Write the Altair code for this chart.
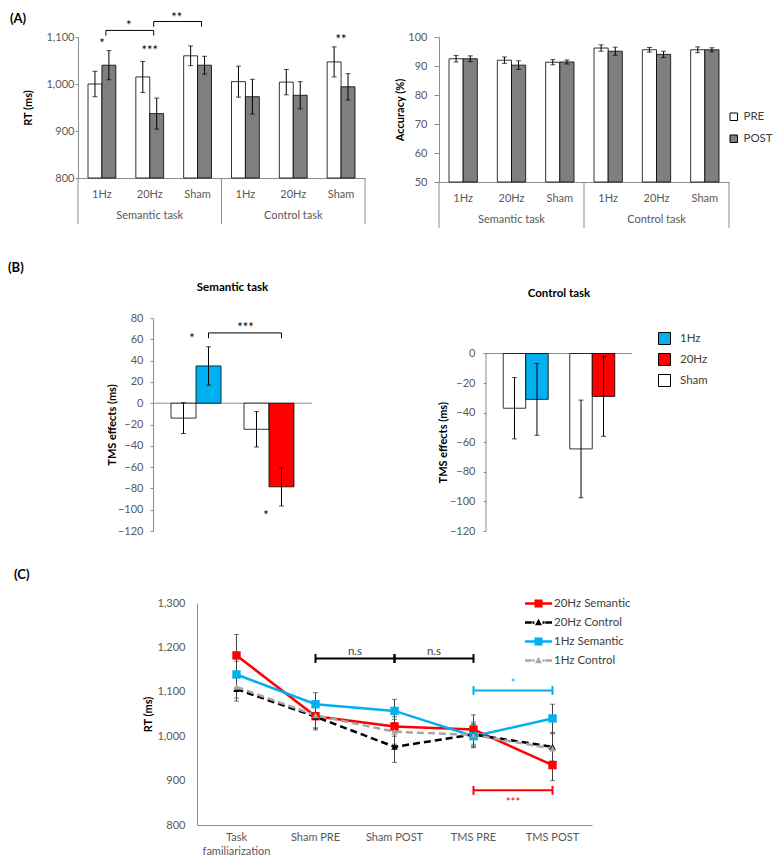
import altair as alt
import pandas as pd

FONT = "Lato"
AXIS_C = "#8c8c8c"
LABEL_C = "#595959"
TEXT_C = "#404040"

# ---------------- Panel A data ----------------
a_cats = ["S|1Hz", "S|20Hz", "S|Sham", "C|1Hz", "C|20Hz", "C|Sham"]
phases = ["PRE", "POST"]
tasks = ["Semantic task", "Control task"]
task_mid_cats = ["S|20Hz", "C|20Hz"]

rt_pre = [1000, 1015, 1060, 1005, 1004, 1047]
rt_pre_err = [27, 33, 21, 33, 27, 32]
rt_post = [1040, 937, 1040, 973, 976, 994]
rt_post_err = [31, 33, 19, 37, 29, 28]

acc_pre = [92.5, 92.0, 91.3, 96.2, 95.6, 95.6]
acc_pre_err = [1.1, 1.1, 0.9, 1.1, 0.8, 1.0]
acc_post = [92.5, 90.3, 91.4, 95.1, 94.0, 95.6]
acc_post_err = [1.0, 1.5, 0.7, 1.4, 1.1, 0.7]

a_star_cats = ["S|1Hz", "S|20Hz", "C|Sham"]
a_star_y = [1085, 1070, 1093]
a_star_txt = ["*", "***", "**"]
a_br_from = ["S|1Hz", "S|20Hz"]
a_br_to = ["S|20Hz", "S|Sham"]
a_br_top = [1114, 1133]
a_br_drop = [11, 11]
a_br_txt = ["*", "**"]
a_br_txt_y = [1124, 1141]

# ---------------- Panel B data ----------------
b_groups = ["G1", "G2"]
b_slots = ["sham", "tms"]
b_conds = ["1Hz", "20Hz", "Sham"]
b_colors = ["#00B0F0", "#FF0000", "#FFFFFF"]
b_bar_group = ["G1", "G1", "G2", "G2"]
b_bar_slot = ["sham", "tms", "sham", "tms"]
b_bar_cond = ["Sham", "1Hz", "Sham", "20Hz"]
b_sem_vals = [-14, 35, -24.5, -78.5]
b_sem_err = [14.5, 18, 16.6, 18]
b_ctl_vals = [-37, -31, -64.5, -29]
b_ctl_err = [20.7, 24.3, 33, 27]

# ---------------- Panel C data ----------------
c_cats = ["Task familiarization", "Sham PRE", "Sham POST", "TMS PRE", "TMS POST"]
c_series = ["20Hz Semantic", "20Hz Control", "1Hz Semantic", "1Hz Control"]
c_colors = ["#FF0000", "#000000", "#00B0F0", "#A6A6A6"]
c_20_sem = [1182, 1045, 1022, 1015, 935]
c_20_ctl = [1106, 1044, 976, 1004, 976]
c_1_sem = [1139, 1072, 1057, 1000, 1040]
c_1_ctl = [1111, 1047, 1010, 1003, 972]
c_20_sem_err = [47, 28, 22, 33, 35]
c_20_ctl_err = [27, 30, 35, 28, 32]
c_1_sem_err = [30, 26, 26, 26, 32]
c_1_ctl_err = [25, 28, 28, 25, 33]

c_br_from = ["Sham PRE", "Sham POST", "TMS PRE", "TMS PRE"]
c_br_to = ["Sham POST", "TMS PRE", "TMS POST", "TMS POST"]
c_br_y = [1175, 1175, 1103, 878]
c_br_color = ["black", "black", "#00B0F0", "#FF0000"]
c_br_txt = ["n.s", "n.s", "*", "***"]
c_br_txt_y = [1190, 1190, 1118, 850]


def comma_expr():
    return "format(datum.value, ',')"


# ======================================================================
def frame_a(pre, pre_err, post, post_err):
    rows = []
    for i, c in enumerate(a_cats):
        rows.append(dict(cat=c, phase="PRE", value=pre[i], lo=pre[i] - pre_err[i], hi=pre[i] + pre_err[i]))
        rows.append(dict(cat=c, phase="POST", value=post[i], lo=post[i] - post_err[i], hi=post[i] + post_err[i]))
    return pd.DataFrame(rows)


def panel_a(df, ydom, yvals, w, h, ytitle, title_x, label_pad, tick_size, legend, extra=None):
    step = w / 6.0
    bw = (step - 20) / 2.0
    offs = {"PRE": -bw / 2, "POST": bw / 2}
    xsc = alt.Scale(domain=a_cats, paddingInner=0, paddingOuter=0)
    ysc = alt.Scale(domain=ydom, nice=False, zero=False)
    x_axis = alt.Axis(title=None, labelExpr="split(datum.value, '|')[1]", ticks=False, labelAngle=0,
                      labelPadding=10, domainColor=AXIS_C, labelColor=LABEL_C, labelFontSize=11, grid=False)
    y_axis = alt.Axis(values=yvals, labelExpr=comma_expr(), title=ytitle, grid=False, tickSize=tick_size,
                      labelPadding=label_pad, domainColor=AXIS_C, tickColor=AXIS_C, labelColor=LABEL_C,
                      labelFontSize=11, titleFontSize=11, titleFontWeight="bold", titleColor="black",
                      titleX=title_x, titleY=h / 2, titleBaseline="middle", titleAngle=270)

    def X(**kw):
        return alt.X("cat:N", scale=xsc, axis=x_axis, **kw)

    def Y(f):
        return alt.Y(f, scale=ysc, axis=y_axis)

    fill = alt.Fill("phase:N", scale=alt.Scale(domain=phases, range=["#FFFFFF", "#7F7F7F"]), legend=legend)
    layers = []
    for ph in phases:
        sub = alt.Chart(df).transform_filter(alt.datum.phase == ph)
        o = offs[ph]
        layers.append(sub.mark_bar(stroke="black", strokeWidth=0.8, width=bw, xOffset=o).encode(
            x=X(), y=Y("value:Q"), y2=alt.datum(ydom[0]), fill=fill))
        layers.append(sub.mark_rule(color="black", strokeWidth=1, xOffset=o).encode(
            x=X(), y=Y("lo:Q"), y2="hi:Q"))
        layers.append(sub.mark_tick(color="black", thickness=1, size=5, orient="horizontal", xOffset=o).encode(
            x=X(), y=Y("lo:Q")))
        layers.append(sub.mark_tick(color="black", thickness=1, size=5, orient="horizontal", xOffset=o).encode(
            x=X(), y=Y("hi:Q")))
    sep_start = alt.Chart(pd.DataFrame({"cat": ["S|1Hz", "C|1Hz"]})).mark_rule(
        color=AXIS_C, strokeWidth=1).encode(
        x=X(bandPosition=0), y=alt.value(h), y2=alt.value(h + 46))
    sep_end = alt.Chart(pd.DataFrame({"cat": ["C|Sham"]})).mark_rule(
        color=AXIS_C, strokeWidth=1).encode(
        x=X(bandPosition=1), y=alt.value(h), y2=alt.value(h + 46))
    grp = alt.Chart(pd.DataFrame({"cat": task_mid_cats, "label": tasks})).mark_text(
        fontSize=11, color=LABEL_C, baseline="middle").encode(
        x=X(), y=alt.value(h + 38), text="label:N")
    layers += [sep_start, sep_end, grp]
    if extra:
        layers += extra(X, Y, bw)
    return alt.layer(*layers).properties(width=w, height=h)


def a_left_extra(X, Y, bw):
    stars = alt.Chart(pd.DataFrame({"cat": a_star_cats, "value": a_star_y, "t": a_star_txt})).mark_text(
        fontSize=13, color="black", baseline="middle").encode(x=X(), y=Y("value:Q"), text="t:N")
    rows = []
    for k in range(len(a_br_from)):
        pts = [(a_br_from[k], a_br_top[k] - a_br_drop[k]), (a_br_from[k], a_br_top[k]),
               (a_br_to[k], a_br_top[k]), (a_br_to[k], a_br_top[k] - a_br_drop[k])]
        for o, (c, v) in enumerate(pts):
            rows.append(dict(cat=c, value=v, br=k, o=o))
    br = alt.Chart(pd.DataFrame(rows)).mark_line(color="black", strokeWidth=1, xOffset=bw / 2 - 3).encode(
        x=X(), y=Y("value:Q"), detail="br:N", order="o:Q")
    brt = alt.Chart(pd.DataFrame({"cat": a_br_from, "value": a_br_txt_y, "t": a_br_txt})).mark_text(
        fontSize=13, color="black", baseline="middle", dx=3).encode(
        x=X(bandPosition=1), y=Y("value:Q"), text="t:N")
    return [stars, br, brt]


df_rt = frame_a(rt_pre, rt_pre_err, rt_post, rt_post_err)
df_acc = frame_a(acc_pre, acc_pre_err, acc_post, acc_post_err)

a_left = panel_a(df_rt, [800, 1100], [800, 900, 1000, 1100], 287, 141, "RT (ms)", -50, 1, 3, None,
                 extra=a_left_extra)
legend_a = alt.Legend(orient="none", legendX=289, legendY=74, title=None, symbolType="square",
                      symbolSize=56, symbolStrokeColor="black", symbolStrokeWidth=1,
                      labelFontSize=11.5, labelColor=TEXT_C, rowPadding=9, labelOffset=4)
a_right = panel_a(df_acc, [50, 100], [50, 60, 70, 80, 90, 100], 290, 145, "Accuracy (%)", -39, 7, 5,
                  legend_a)


# ======================================================================
def frame_b(vals, errs):
    return pd.DataFrame({"grp": b_bar_group, "slot": b_bar_slot, "cond": b_bar_cond, "value": vals,
                         "lo": [v - e for v, e in zip(vals, errs)], "hi": [v + e for v, e in zip(vals, errs)]})


def panel_b(df, title, ydom, w, h, pad_in, pad_out, bw, title_x, label_pad, legend, axis_full, extra=None):
    xsc = alt.Scale(domain=b_groups, paddingInner=pad_in, paddingOuter=pad_out)
    ysc = alt.Scale(domain=ydom, nice=False, zero=False)
    yvals = list(range(-120, 81, 20)) if axis_full else list(range(-120, 1, 20))
    y_axis = alt.Axis(values=yvals, title="TMS effects  (ms)", grid=False, tickSize=3, labelPadding=label_pad,
                      domain=axis_full, domainColor=AXIS_C, tickColor=AXIS_C, labelColor=LABEL_C,
                      labelFontSize=11, titleFontSize=11, titleFontWeight="bold", titleColor="black",
                      titleX=title_x, titleY=h / 2 if axis_full else h - (h * 120 / (ydom[1] - ydom[0])) / 2,
                      titleBaseline="middle", titleAngle=270)
    offs = {"sham": -bw / 2, "tms": bw / 2}

    def X():
        return alt.X("grp:N", scale=xsc, axis=None)

    def Y(f):
        return alt.Y(f, scale=ysc, axis=y_axis)

    fill = alt.Fill("cond:N", scale=alt.Scale(domain=b_conds, range=b_colors), legend=legend)
    zero = alt.Chart(pd.DataFrame({"z": [0]})).mark_rule(color=AXIS_C, strokeWidth=1).encode(y=Y("z:Q"))
    layers = [zero]
    for sl in b_slots:
        sub = alt.Chart(df).transform_filter(alt.datum.slot == sl)
        o = offs[sl]
        layers.append(sub.mark_bar(stroke="black", strokeWidth=0.8, width=bw, xOffset=o).encode(
            x=X(), y=Y("value:Q"), y2=alt.datum(0), fill=fill))
        layers.append(sub.mark_rule(color="black", strokeWidth=1, xOffset=o).encode(
            x=X(), y=Y("lo:Q"), y2="hi:Q"))
        layers.append(sub.mark_tick(color="black", thickness=1, size=5, orient="horizontal", xOffset=o).encode(
            x=X(), y=Y("lo:Q")))
        layers.append(sub.mark_tick(color="black", thickness=1, size=5, orient="horizontal", xOffset=o).encode(
            x=X(), y=Y("hi:Q")))
    if not axis_full:
        yline = alt.Chart(pd.DataFrame({"a": [-120], "b": [0]})).mark_rule(color=AXIS_C, strokeWidth=1).encode(
            x=alt.value(0), y=Y("a:Q"), y2="b:Q")
        layers.append(yline)
    if extra:
        layers += extra(X, Y, bw)
    return alt.layer(*layers).properties(
        width=w, height=h,
        title=alt.TitleParams(title, fontSize=11.5, fontWeight="bold", color="black", offset=19,
                              anchor="middle", frame="group"))


def b_left_extra(X, Y, bw):
    s1 = alt.Chart(pd.DataFrame({"grp": ["G1"], "value": [60], "t": ["*"]})).mark_text(
        fontSize=13, color="black", baseline="middle", dx=-4).encode(x=X(), y=Y("value:Q"), text="t:N")
    s2 = alt.Chart(pd.DataFrame({"grp": ["G2"], "value": [-106], "t": ["*"]})).mark_text(
        fontSize=13, color="black", baseline="middle", dx=-3).encode(x=X(), y=Y("value:Q"), text="t:N")
    rows = []
    pts = [("G1", 61), ("G1", 66), ("G2", 66), ("G2", 61)]
    for o, (g, v) in enumerate(pts):
        rows.append(dict(grp=g, value=v, o=o))
    br = alt.Chart(pd.DataFrame(rows)).mark_line(color="black", strokeWidth=1, xOffset=bw / 2).encode(
        x=X(), y=Y("value:Q"), order="o:Q")
    brt = alt.Chart(pd.DataFrame({"grp": ["G1"], "value": [71], "t": ["***"]})).mark_text(
        fontSize=13, color="black", baseline="middle", dx=bw / 2 + 37).encode(
        x=X(), y=Y("value:Q"), text="t:N")
    return [s1, s2, br, brt]


legend_b = alt.Legend(orient="none", legendX=172, legendY=14, title=None, symbolType="square",
                      symbolSize=144, symbolStrokeColor="black", symbolStrokeWidth=1,
                      labelFontSize=11.5, labelColor=TEXT_C, rowPadding=4, labelOffset=9)

b_left = panel_b(frame_b(b_sem_vals, b_sem_err), "Semantic task", [-120, 80], 159, 213, 0.315, 0.2466, 25,
                 -41, 7, None, True, extra=b_left_extra)
b_right = panel_b(frame_b(b_ctl_vals, b_ctl_err), "Control task", [-120, 24], 146, 213, 0.328, 0.261, 22.5,
                  -43, 8, legend_b, False)

# ======================================================================
c_vals = [c_20_sem, c_20_ctl, c_1_sem, c_1_ctl]
c_errs = [c_20_sem_err, c_20_ctl_err, c_1_sem_err, c_1_ctl_err]
rows = []
for s, vals, errs in zip(c_series, c_vals, c_errs):
    for i, c in enumerate(c_cats):
        rows.append(dict(cat=c, series=s, value=vals[i], lo=vals[i] - errs[i], hi=vals[i] + errs[i],
                         kind="sem" if "Semantic" in s else "ctl"))
df_c = pd.DataFrame(rows)

CW, CH = 395, 222
c_xsc = alt.Scale(domain=c_cats, paddingInner=0, paddingOuter=0)
c_ysc = alt.Scale(domain=[800, 1300], nice=False, zero=False)
c_x_axis = alt.Axis(title=None, ticks=False, labelAngle=0, labelPadding=6, domainColor=AXIS_C, labelColor=LABEL_C,
                    labelFontSize=11, labelLineHeight=14, grid=False,
                    labelExpr="datum.value == 'Task familiarization' ? ['Task', 'familiarization'] : datum.value")
c_y_axis = alt.Axis(values=[800, 900, 1000, 1100, 1200, 1300], labelExpr=comma_expr(), title="RT (ms)",
                    grid=False, ticks=False, labelPadding=12, domainColor=AXIS_C, labelColor=LABEL_C,
                    labelFontSize=11, titleFontSize=11, titleFontWeight="bold", titleColor="black",
                    titleX=-49, titleY=CH / 2, titleBaseline="middle", titleAngle=270)


def CX(**kw):
    return alt.X("cat:N", scale=c_xsc, axis=c_x_axis, **kw)


def CY(f):
    return alt.Y(f, scale=c_ysc, axis=c_y_axis)


c_color = alt.Color("series:N", scale=alt.Scale(domain=c_series, range=c_colors), legend=None)

cbase = alt.Chart(df_c)
c_whisk = cbase.mark_rule(color=TEXT_C, strokeWidth=1).encode(x=CX(), y=CY("lo:Q"), y2="hi:Q")
c_cap_lo = cbase.mark_tick(color=TEXT_C, thickness=1, size=5, orient="horizontal").encode(x=CX(), y=CY("lo:Q"))
c_cap_hi = cbase.mark_tick(color=TEXT_C, thickness=1, size=5, orient="horizontal").encode(x=CX(), y=CY("hi:Q"))
c_line_solid = cbase.transform_filter("datum.kind == 'sem'").mark_line(strokeWidth=2.5).encode(
    x=CX(), y=CY("value:Q"), color=c_color, detail="series:N")
c_line_dash = cbase.transform_filter("datum.kind == 'ctl'").mark_line(strokeWidth=2.5, strokeDash=[7, 4]).encode(
    x=CX(), y=CY("value:Q"), color=c_color, detail="series:N")
c_sq = cbase.transform_filter("datum.kind == 'sem'").mark_square(size=70, opacity=1).encode(
    x=CX(), y=CY("value:Q"), color=c_color)
c_tri = cbase.transform_filter("datum.kind == 'ctl'").mark_point(
    shape="triangle-up", filled=True, size=45, opacity=1).encode(x=CX(), y=CY("value:Q"), color=c_color)

br_rows = []
for k in range(len(c_br_from)):
    br_rows.append(dict(cat=c_br_from[k], value=c_br_y[k], br=k, col=c_br_color[k]))
    br_rows.append(dict(cat=c_br_to[k], value=c_br_y[k], br=k, col=c_br_color[k]))
df_br = pd.DataFrame(br_rows)
df_br["lo"] = df_br["value"] - 10
df_br["hi"] = df_br["value"] + 10
c_br_line = alt.Chart(df_br).mark_line(strokeWidth=2).encode(
    x=CX(), y=CY("value:Q"), detail="br:N", color=alt.Color("col:N", scale=None, legend=None))
c_br_caps = alt.Chart(df_br).mark_rule(strokeWidth=2).encode(
    x=CX(), y=CY("lo:Q"), y2="hi:Q", color=alt.Color("col:N", scale=None, legend=None))
df_brt = pd.DataFrame({"cat": c_br_from, "value": c_br_txt_y, "t": c_br_txt,
                       "col": [TEXT_C if c == "black" else c for c in c_br_color]})
c_br_txt_l = alt.Chart(df_brt).mark_text(fontSize=11.5, baseline="middle").encode(
    x=CX(bandPosition=1), y=CY("value:Q"), text="t:N", color=alt.Color("col:N", scale=None, legend=None))

# legend symbols: line drawn as thin filled bars + marker (filled shapes only)
seg = "M-1,-0.09H1V0.09H-1Z"
dseg = "M-1,-0.09H-0.5V0.09H-1ZM0.5,-0.09H1V0.09H0.5Z"
sq_path = seg + "M-0.3,-0.3H0.3V0.3H-0.3Z"
tri_path = dseg + "M-0.45,-0.09H-0.3V0.09H-0.45ZM0.3,-0.09H0.45V0.09H0.3ZM0,-0.28L0.26,0.2H-0.26Z"
legend_c = alt.Legend(orient="none", legendX=328, legendY=-13, title=None, symbolSize=729,
                      symbolStrokeWidth=0, labelFontSize=11.5, labelColor=TEXT_C, rowPadding=-6,
                      labelOffset=2, symbolOpacity=1)
c_leg = cbase.transform_filter("false").mark_point(filled=True, opacity=1).encode(
    x=CX(), y=CY("value:Q"),
    fill=alt.Fill("series:N", scale=alt.Scale(domain=c_series, range=c_colors), legend=legend_c),
    shape=alt.Shape("series:N", scale=alt.Scale(domain=c_series, range=[sq_path, tri_path, sq_path, tri_path]),
                    legend=legend_c))

c_panel = alt.layer(c_whisk, c_cap_lo, c_cap_hi, c_line_solid, c_line_dash, c_sq, c_tri,
                    c_br_line, c_br_caps, c_br_txt_l, c_leg).properties(width=CW, height=CH)


# ======================================================================
def label_cell(txt, x, y):
    return alt.Chart(pd.DataFrame({"t": [txt]})).mark_text(
        fontSize=13, fontWeight="bold", color="black", align="left", baseline="top").encode(
        x=alt.value(x), y=alt.value(y), text="t:N").properties(width=1, height=1)


inner_a = alt.hconcat(a_left, a_right, spacing=74, bounds="flush").resolve_scale(fill="independent")
inner_b = alt.hconcat(b_left, b_right, spacing=174, bounds="flush").resolve_scale(fill="independent")
row_a = alt.hconcat(label_cell("(A)", 2, -24), inner_a, spacing=69, bounds="flush").resolve_scale(
    fill="independent")
row_b = alt.hconcat(label_cell("(B)", 0, -56), inner_b, spacing=144, bounds="flush").resolve_scale(
    fill="independent")
row_c = alt.hconcat(label_cell("(C)", 6, -34), c_panel, spacing=188, bounds="flush").resolve_scale(
    fill="independent", shape="independent")

chart = alt.concat(row_a, row_b, row_c, columns=1, spacing=33).resolve_scale(
    fill="independent", color="independent", stroke="independent", shape="independent",
    strokeDash="independent").properties(
    padding={"left": 0, "top": 3, "right": 0, "bottom": 0}).configure(font=FONT).configure_view(stroke=None)

chart.save("out.html", embed_options={"renderer": "svg", "actions": False})
